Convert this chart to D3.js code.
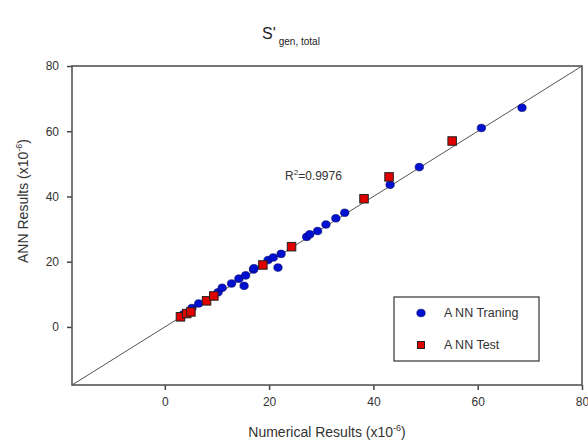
<!DOCTYPE html>
<html>
<head>
<meta charset="utf-8">
<script src="https://cdn.jsdelivr.net/npm/d3@7"></script>
<style>
  body { margin: 0; background: #fff; }
  svg { font-family: "Liberation Sans", Arial, sans-serif; }
</style>
</head>
<body>
<svg id="chart" width="588" height="442"></svg>
<script>
// ANN training points [numerical, ANN]
const trainingData = [
  [3.5, 3.8], [5.2, 5.8], [6.5, 7.2], [10.2, 10.6], [11, 12], [12.8, 13.3],
  [14.2, 14.8], [15.2, 12.6], [15.5, 15.8], [17, 17.6], [17.1, 18],
  [19.8, 20.5], [20.8, 21.3], [21.7, 18.2], [22.3, 22.4], [27.2, 27.6],
  [27.8, 28.4], [29.3, 29.4], [30.9, 31.4], [32.8, 33.3], [34.5, 35],
  [43.2, 43.6], [48.8, 49], [60.7, 61], [68.5, 67.2],
];
// ANN test points
const testData = [
  [3, 3.1], [4.2, 4.1], [5, 4.6], [8, 8], [9.4, 9.5], [18.8, 19],
  [24.3, 24.6], [38.2, 39.3], [43, 46], [55.1, 57],
];
const tickValues = [0, 20, 40, 60, 80];
const axisMin = -17.8;
const axisMax = 80;

const svg = d3.select('#chart');
const margin = { left: 72, right: 6, top: 66, bottom: 57 };
const width = 588 - margin.left - margin.right;
const height = 442 - margin.top - margin.bottom;

const x = d3.scaleLinear().domain([axisMin, axisMax]).range([margin.left, margin.left + width]);
const y = d3.scaleLinear().domain([axisMin, axisMax]).range([margin.top + height, margin.top]);

const textColor = '#333';

// x axis
const xAxis = svg.append('g')
  .attr('transform', `translate(0,${margin.top + height})`)
  .call(d3.axisBottom(x).tickValues(tickValues).tickSize(5).tickPadding(7));
// y axis
const yAxis = svg.append('g')
  .attr('transform', `translate(${margin.left},0)`)
  .call(d3.axisLeft(y).tickValues(tickValues).tickSize(5).tickPadding(8));

[xAxis, yAxis].forEach((g) => {
  g.select('.domain').remove();
  g.selectAll('line').attr('stroke', '#444').attr('stroke-width', 1.5);
  g.selectAll('text').attr('fill', textColor).style('font-size', '12px');
});

// plot frame
svg.append('rect')
  .attr('x', margin.left)
  .attr('y', margin.top)
  .attr('width', width)
  .attr('height', height)
  .attr('fill', 'none')
  .attr('stroke', '#555')
  .attr('stroke-width', 1.6);

// y = x reference line
svg.append('line')
  .attr('x1', x(axisMin)).attr('y1', y(axisMin))
  .attr('x2', x(axisMax)).attr('y2', y(axisMax))
  .attr('stroke', '#555')
  .attr('stroke-width', 1);

// training points
svg.append('g')
  .selectAll('ellipse')
  .data(trainingData)
  .enter()
  .append('ellipse')
  .attr('cx', (d) => x(d[0]))
  .attr('cy', (d) => y(d[1]))
  .attr('rx', 4.2)
  .attr('ry', 3.8)
  .attr('fill', '#0010d0')
  .attr('stroke', '#000060')
  .attr('stroke-width', 0.6);

// test points
const sq = 8.5;
svg.append('g')
  .selectAll('rect')
  .data(testData)
  .enter()
  .append('rect')
  .attr('x', (d) => x(d[0]) - sq / 2)
  .attr('y', (d) => y(d[1]) - sq / 2)
  .attr('width', sq)
  .attr('height', sq)
  .attr('fill', '#e00000')
  .attr('stroke', '#222')
  .attr('stroke-width', 1);

// R^2 annotation
const r2 = svg.append('text')
  .attr('x', 285)
  .attr('y', 180)
  .attr('fill', textColor)
  .style('font-size', '12px');
r2.append('tspan').text('R');
r2.append('tspan').attr('dy', -5).style('font-size', '8px').text('2');
r2.append('tspan').attr('dy', 5).text('=0.9976');

// title
const title = svg.append('text')
  .attr('x', 262)
  .attr('y', 39)
  .attr('fill', '#222')
  .style('font-size', '16px');
title.append('tspan').text("S'");
title.append('tspan').attr('dy', 6).attr('dx', 3).style('font-size', '10px').text('gen, total');

// x label
const xLabel = svg.append('text')
  .attr('x', margin.left + width / 2)
  .attr('y', 437)
  .attr('text-anchor', 'middle')
  .attr('fill', textColor)
  .style('font-size', '14px');
xLabel.append('tspan').text('Numerical Results (x10');
xLabel.append('tspan').attr('dy', -6).style('font-size', '9px').text('-6');
xLabel.append('tspan').attr('dy', 6).text(')');

// y label
const yLabel = svg.append('text')
  .attr('transform', 'translate(28,201) rotate(-90)')
  .attr('text-anchor', 'middle')
  .attr('fill', textColor)
  .style('font-size', '14px');
yLabel.append('tspan').text('ANN Results (x10');
yLabel.append('tspan').attr('dy', -6).style('font-size', '9px').text('-6');
yLabel.append('tspan').attr('dy', 6).text(')');

// legend
const legend = svg.append('g');
legend.append('rect')
  .attr('x', 394).attr('y', 297)
  .attr('width', 145).attr('height', 64)
  .attr('fill', '#fff')
  .attr('stroke', '#333')
  .attr('stroke-width', 1.2);
legend.append('ellipse')
  .attr('cx', 421).attr('cy', 313)
  .attr('rx', 4.2).attr('ry', 3.8)
  .attr('fill', '#0010d0').attr('stroke', '#000060').attr('stroke-width', 0.6);
legend.append('rect')
  .attr('x', 421 - 3.5).attr('y', 345 - 3.5)
  .attr('width', 7).attr('height', 7)
  .attr('fill', '#e00000').attr('stroke', '#222').attr('stroke-width', 1);
legend.selectAll('text.lg')
  .data(['A NN Traning', 'A NN Test'])
  .enter()
  .append('text')
  .attr('class', 'lg')
  .attr('x', 444)
  .attr('y', (d, i) => 313 + i * 32)
  .attr('dy', '0.35em')
  .attr('fill', textColor)
  .style('font-size', '12.5px')
  .text((d) => d);
</script>
</body>
</html>
